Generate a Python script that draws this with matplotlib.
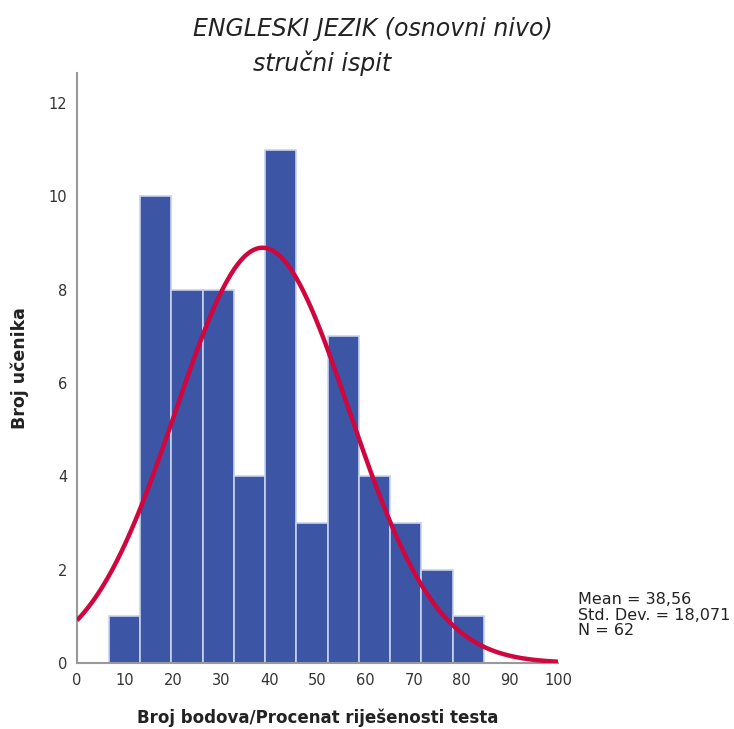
import matplotlib.pyplot as plt
import numpy as np

plt.rcParams['font.family'] = ['DejaVu Sans']

# Histogram data
bin_start = 6.6
bin_width = 6.5
counts = [1, 10, 8, 8, 4, 11, 3, 7, 4, 3, 2, 1]
mean = 38.56
std = 18.071
n = 62

x_ticks = [0, 10, 20, 30, 40, 50, 60, 70, 80, 90, 100]
y_ticks = [0, 2, 4, 6, 8, 10, 12]

edges = bin_start + bin_width * np.arange(len(counts))

fig = plt.figure(figsize=(7.34, 7.29), dpi=100)
ax = fig.add_axes([77 / 734, 1 - 663 / 729, (558 - 77) / 734, (663 - 73) / 729])

ax.bar(edges, counts, width=bin_width, align='edge', color='#3c55a5',
       edgecolor='#c8d2f0', linewidth=1.2, zorder=2)

xs = np.linspace(0, 100, 400)
ys = n * bin_width * np.exp(-0.5 * ((xs - mean) / std) ** 2) / (std * np.sqrt(2 * np.pi))
ax.plot(xs, ys, color='#d0063f', linewidth=3.2, zorder=3, solid_capstyle='butt')

ax.set_xlim(0, 100)
ax.set_ylim(0, 12.64)
ax.set_xticks(x_ticks)
ax.set_yticks(y_ticks)
ax.tick_params(length=0, labelsize=10.5, labelcolor='#333333', pad=7)
for s in ['top', 'right']:
    ax.spines[s].set_visible(False)
for s in ['left', 'bottom']:
    ax.spines[s].set_color('#999999')
    ax.spines[s].set_linewidth(1.5)
ax.patch.set_alpha(0)

fig.text(373 / 734, 1 - 29 / 729, 'ENGLESKI JEZIK (osnovni nivo)', ha='center', va='center',
         fontsize=17, style='italic', color='#222222')
fig.text(322 / 734, 1 - 63 / 729, 'stručni ispit', ha='center', va='center',
         fontsize=17, style='italic', color='#222222')

fig.text(20 / 734, 1 - 368 / 729, 'Broj učenika', rotation=90, ha='center', va='center',
         fontsize=12.5, fontweight='bold', color='#222222')
fig.text(318 / 734, 1 - 718 / 729, 'Broj bodova/Procenat riješenosti testa', ha='center',
         va='center', fontsize=12, fontweight='bold', color='#222222')

fig.text(578 / 734, 1 - 615 / 729,
         'Mean = 38,56\nStd. Dev. = 18,071\nN = 62', ha='left', va='center',
         fontsize=11.5, color='#222222', linespacing=1.08)

fig.savefig('out.png', dpi=100)
